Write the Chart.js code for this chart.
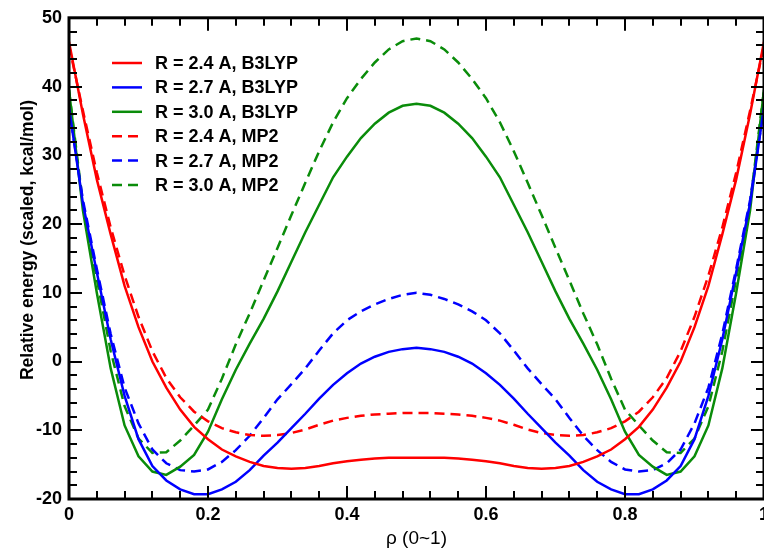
<!DOCTYPE html>
<html>
<head>
<meta charset="utf-8">
<script src="https://cdn.jsdelivr.net/npm/chart.js@4.4.0/dist/chart.umd.min.js"></script>
<style>
  html, body { margin: 0; padding: 0; background: #fff; overflow: hidden; }
  #wrap { width: 800px; height: 551px; }
</style>
</head>
<body>
<div id="wrap"><canvas id="energyChart" width="800" height="551"></canvas></div>
<script>
// reaction coordinate rho, step 0.02
let rho = [0, 0.02, 0.04, 0.06, 0.08, 0.10, 0.12, 0.14, 0.16, 0.18, 0.20, 0.22, 0.24, 0.26, 0.28, 0.30,
           0.32, 0.34, 0.36, 0.38, 0.40, 0.42, 0.44, 0.46, 0.48, 0.50, 0.52, 0.54, 0.56, 0.58, 0.60,
           0.62, 0.64, 0.66, 0.68, 0.70, 0.72, 0.74, 0.76, 0.78, 0.80, 0.82, 0.84, 0.86, 0.88, 0.90,
           0.92, 0.94, 0.96, 0.98, 1.00];

let r24b3lyp = [46.5, 36, 26.5, 18.5, 11, 5, 0, -3.8, -7, -9.5, -11.3, -12.8, -13.8, -14.6, -15.2, -15.5,
                -15.6, -15.5, -15.2, -14.8, -14.5, -14.3, -14.1, -14.0, -14.0, -14.0, -14.0, -14.0, -14.1, -14.3, -14.5,
                -14.8, -15.2, -15.5, -15.6, -15.5, -15.2, -14.6, -13.8, -12.8, -11.3, -9.5, -7, -3.8, 0, 5,
                11, 18.5, 26.5, 36, 46.5];
let r27b3lyp = [37, 23, 13, 3.2, -5, -11.3, -15.2, -17.3, -18.6, -19.3, -19.3, -18.6, -17.5, -15.8, -13.7, -11.8,
                -9.7, -7.6, -5.4, -3.4, -1.7, -0.3, 0.7, 1.4, 1.8, 2.0, 1.8, 1.4, 0.7, -0.3, -1.7,
                -3.4, -5.4, -7.6, -9.7, -11.8, -13.7, -15.8, -17.5, -18.6, -19.3, -19.3, -18.6, -17.3, -15.2, -11.3,
                -5, 3.2, 13, 23, 37];
let r30b3lyp = [39.5, 22, 10, -1, -9.3, -13.8, -16.0, -16.5, -15.3, -13.6, -10.2, -5.5, -1.2, 2.6, 6.2, 10.2,
                14.5, 18.8, 22.8, 26.8, 29.8, 32.5, 34.6, 36.2, 37.2, 37.5, 37.2, 36.2, 34.6, 32.5, 29.8,
                26.8, 22.8, 18.8, 14.5, 10.2, 6.2, 2.6, -1.2, -5.5, -10.2, -13.6, -15.3, -16.5, -16.0, -13.8,
                -9.3, -1, 10, 22, 39.5];
let r24mp2 = [46, 36.5, 27.5, 19.5, 12.5, 6.5, 1.5, -2.4, -5.2, -7.3, -8.7, -9.7, -10.3, -10.7, -10.8, -10.7,
              -10.4, -9.9, -9.2, -8.6, -8.2, -7.9, -7.7, -7.6, -7.5, -7.5, -7.5, -7.6, -7.7, -7.9, -8.2,
              -8.6, -9.2, -9.9, -10.4, -10.7, -10.8, -10.7, -10.3, -9.7, -8.7, -7.3, -5.2, -2.4, 1.5, 6.5,
              12.5, 19.5, 27.5, 36.5, 46];
let r27mp2 = [37, 23.5, 13.5, 4, -3.8, -9, -12.8, -14.8, -15.8, -16.0, -15.7, -14.6, -12.9, -10.8, -8.2, -5.5,
              -3.3, -1.0, 1.6, 4.1, 6.0, 7.3, 8.3, 9.1, 9.7, 10.0, 9.7, 9.1, 8.3, 7.3, 6.0,
              4.1, 1.6, -1.0, -3.3, -5.5, -8.2, -10.8, -12.9, -14.6, -15.7, -16.0, -15.8, -14.8, -12.8, -9,
              -3.8, 4, 13.5, 23.5, 37];
let r30mp2 = [39.5, 23, 12, 1.5, -6.5, -11.2, -13.3, -13.2, -11.5, -9.3, -7, -2.5, 2.5, 7, 11.8, 16.5,
              21.3, 26, 30.6, 34.8, 38.3, 41.1, 43.5, 45.4, 46.6, 47.0, 46.6, 45.4, 43.5, 41.1, 38.3,
              34.8, 30.6, 26, 21.3, 16.5, 11.8, 7, 2.5, -2.5, -7, -9.3, -11.5, -13.2, -13.3, -11.2,
              -6.5, 1.5, 12, 23, 39.5];

let seriesLabels = ['R = 2.4 A, B3LYP', 'R = 2.7 A, B3LYP', 'R = 3.0 A, B3LYP',
                    'R = 2.4 A, MP2', 'R = 2.7 A, MP2', 'R = 3.0 A, MP2'];
let xTicks = [0, 0.2, 0.4, 0.6, 0.8, 1];
let yTicks = [-20, -10, 0, 10, 20, 30, 40, 50];

const X_MIN = 0, X_MAX = 1;
const Y_MIN = -20, Y_MAX = 50;

const RED = '#ff0000';
const BLUE = '#0000ff';
const GREEN = '#0a8c0a';
const FONT = '"Liberation Sans", Arial, Helvetica, sans-serif';

function toPoints(ys) {
    return rho.map((x, i) => ({ x: x, y: ys[i] }));
}

function makeSet(label, ys, color, dashed) {
    return {
        label: label,
        data: toPoints(ys),
        borderColor: color,
        backgroundColor: color,
        borderWidth: 2.5,
        borderDash: dashed ? [10, 6] : [],
        pointRadius: 0,
        tension: 0,
        fill: false
    };
}

// frame and inward ticks on all four sides (positions from the chart area and axis limits)
const framePlugin = {
    id: 'boxTicks',
    afterDraw(chart) {
        const c = chart.ctx;
        const a = chart.chartArea;
        const w = a.right - a.left;
        const h = a.bottom - a.top;
        c.save();
        c.setLineDash([]);
        c.strokeStyle = '#000';

        c.lineWidth = 3;
        c.strokeRect(a.left, a.top, w, h);

        c.lineWidth = 2;
        c.beginPath();
        for (let i = 0; i <= 25; i++) {
            let v = X_MIN + i * 0.04;
            let px = Math.round(a.left + (v - X_MIN) / (X_MAX - X_MIN) * w);
            let len = (i % 5 === 0) ? 13 : 8;
            c.moveTo(px, a.bottom);
            c.lineTo(px, a.bottom - len);
            c.moveTo(px, a.top);
            c.lineTo(px, a.top + len);
        }
        for (let i = 0; i <= 35; i++) {
            let v = Y_MIN + i * 2;
            let py = Math.round(a.bottom - (v - Y_MIN) / (Y_MAX - Y_MIN) * h);
            let len = (i % 5 === 0) ? 13 : 8;
            c.moveTo(a.left, py);
            c.lineTo(a.left + len, py);
            c.moveTo(a.right, py);
            c.lineTo(a.right - len, py);
        }
        c.stroke();
        c.restore();
    }
};

// legend inside the plot and the y axis title
const legendPlugin = {
    id: 'innerLegend',
    afterDraw(chart) {
        const c = chart.ctx;
        c.save();
        c.font = 'bold 18px ' + FONT;
        c.textBaseline = 'middle';
        c.textAlign = 'left';
        chart.data.datasets.forEach((ds, i) => {
            let y = 63 + i * 24.4;
            c.strokeStyle = ds.borderColor;
            c.lineWidth = 2.5;
            c.setLineDash(ds.borderDash);
            c.beginPath();
            c.moveTo(112, y); c.lineTo(142, y);
            c.stroke();
            c.setLineDash([]);
            c.fillStyle = '#000';
            c.fillText(ds.label, 155, y + 1);
        });

        c.translate(28, 240);
        c.rotate(-Math.PI / 2);
        c.font = 'bold 17.5px ' + FONT;
        c.textAlign = 'center';
        c.fillText('Relative energy (scaled, kcal/mol)', 0, 0);
        c.restore();
    }
};

let energyChart = new Chart(document.getElementById('energyChart'), {
    type: 'line',
    data: {
        datasets: [
            makeSet(seriesLabels[0], r24b3lyp, RED, false),
            makeSet(seriesLabels[1], r27b3lyp, BLUE, false),
            makeSet(seriesLabels[2], r30b3lyp, GREEN, false),
            makeSet(seriesLabels[3], r24mp2, RED, true),
            makeSet(seriesLabels[4], r27mp2, BLUE, true),
            makeSet(seriesLabels[5], r30mp2, GREEN, true)
        ]
    },
    options: {
        responsive: false,
        animation: false,
        layout: { padding: { top: 12, right: 36, left: 0, bottom: 0 } },
        plugins: {
            legend: { display: false },
            tooltip: { enabled: false }
        },
        scales: {
            x: {
                type: 'linear',
                min: X_MIN,
                max: X_MAX,
                afterFit: (axis) => { axis.height = 52; },
                afterBuildTicks: (axis) => { axis.ticks = xTicks.map(v => ({ value: v })); },
                grid: { display: false, drawTicks: false },
                border: { display: false },
                ticks: {
                    padding: 5,
                    maxRotation: 0,
                    autoSkip: false,
                    color: '#000',
                    font: { family: FONT, size: 18, weight: 'bold' },
                    callback: (v) => String(Number(v.toFixed(1)))
                },
                title: {
                    display: true,
                    text: 'ρ (0~1)',
                    color: '#000',
                    padding: { top: 0, bottom: 1 },
                    font: { family: FONT, size: 19 }
                }
            },
            y: {
                min: Y_MIN,
                max: Y_MAX,
                afterFit: (axis) => { axis.width = 69; },
                afterBuildTicks: (axis) => { axis.ticks = yTicks.map(v => ({ value: v })); },
                grid: { display: false, drawTicks: false },
                border: { display: false },
                ticks: {
                    padding: 7,
                    color: '#000',
                    font: { family: FONT, size: 18, weight: 'bold' }
                }
            }
        }
    },
    plugins: [framePlugin, legendPlugin]
});
</script>
</body>
</html>
